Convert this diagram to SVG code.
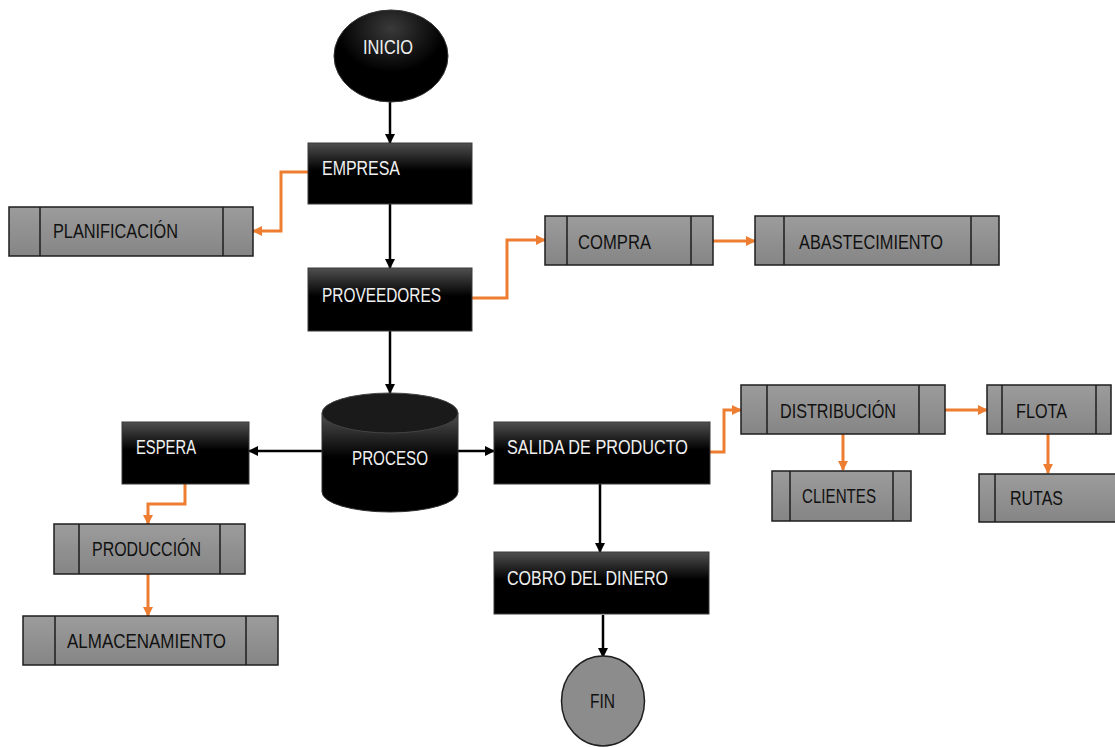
<svg xmlns="http://www.w3.org/2000/svg" width="1115" height="747" viewBox="0 0 1115 747">
<defs>
<linearGradient id="gb" x1="0" y1="0" x2="0" y2="1">
<stop offset="0" stop-color="#505050"/>
<stop offset="0.45" stop-color="#000"/>
<stop offset="1" stop-color="#000"/>
</linearGradient>
<linearGradient id="gg" x1="0" y1="0" x2="0" y2="1">
<stop offset="0" stop-color="#9c9c9c"/>
<stop offset="1" stop-color="#858585"/>
</linearGradient>
<radialGradient id="ge" cx="0.5" cy="0.2" r="0.8">
<stop offset="0" stop-color="#3a3a3a"/>
<stop offset="0.6" stop-color="#000"/>
</radialGradient>
<marker id="ab" markerWidth="10" markerHeight="10" refX="9" refY="5" orient="auto" markerUnits="userSpaceOnUse">
<path d="M0,0 L10,5 L0,10 Z" fill="#000"/>
</marker>
<marker id="ao" markerWidth="10" markerHeight="10" refX="9" refY="5" orient="auto" markerUnits="userSpaceOnUse">
<path d="M0,0 L10,5 L0,10 Z" fill="#ED7D31"/>
</marker>
</defs>
<style>
.blk{fill:url(#gb);stroke:#3a3a3a;stroke-width:1}
.gry{fill:url(#gg);stroke:#1e1e1e;stroke-width:1.5}
.div{stroke:#1e1e1e;stroke-width:1.5;fill:none}
.tw{font-family:"Liberation Sans",Arial,sans-serif;font-size:20px;fill:#f0f0f0}
.tk{font-family:"Liberation Sans",Arial,sans-serif;font-size:20px;fill:#111}
.cb{stroke:#000;stroke-width:2.5;fill:none;marker-end:url(#ab)}
.co{stroke:#ED7D31;stroke-width:3;fill:none;marker-end:url(#ao)}
</style>
<rect width="1115" height="747" fill="#fff"/>

<g id="connectors">
<path class="cb" d="M390,102 L390,143"/>
<path class="cb" d="M390,204 L390,268"/>
<path class="cb" d="M390,331 L390,393"/>
<path class="cb" d="M322,451 L249,451"/>
<path class="cb" d="M458,451 L494,451"/>
<path class="cb" d="M600,484 L600,552"/>
<path class="cb" d="M603,615 L603,657"/>
<path class="co" d="M308,172 L281,172 L281,231 L253,231"/>
<path class="co" d="M472,298 L507,298 L507,240 L545,240"/>
<path class="co" d="M713,241 L755,241"/>
<path class="co" d="M185,484 L185,504 L148,504 L148,524"/>
<path class="co" d="M148,574 L148,616"/>
<path class="co" d="M710,452 L724,452 L724,410 L741,410"/>
<path class="co" d="M945,410 L987,410"/>
<path class="co" d="M843,434 L843,470"/>
<path class="co" d="M1048,434 L1048,473"/>
</g>

<g id="inicio">
<ellipse cx="391" cy="56" rx="57" ry="46" fill="url(#ge)" stroke="#333" stroke-width="1"/>
<text class="tw" x="363" y="54" textLength="50" lengthAdjust="spacingAndGlyphs">INICIO</text>
</g>

<g id="empresa">
<rect class="blk" x="308" y="143" width="164" height="61"/>
<text class="tw" x="322" y="175" textLength="78" lengthAdjust="spacingAndGlyphs">EMPRESA</text>
</g>

<g id="planificacion">
<rect class="gry" x="9" y="207" width="244" height="49"/>
<path class="div" d="M40,207 V256 M223,207 V256"/>
<text class="tk" x="53" y="238" textLength="125" lengthAdjust="spacingAndGlyphs">PLANIFICACIÓN</text>
</g>

<g id="proveedores">
<rect class="blk" x="308" y="268" width="164" height="63"/>
<text class="tw" x="322" y="302" textLength="119" lengthAdjust="spacingAndGlyphs">PROVEEDORES</text>
</g>

<g id="compra">
<rect class="gry" x="545" y="216" width="168" height="49"/>
<path class="div" d="M567,216 V265 M691,216 V265"/>
<text class="tk" x="578" y="249" textLength="73" lengthAdjust="spacingAndGlyphs">COMPRA</text>
</g>

<g id="abastecimiento">
<rect class="gry" x="755" y="216" width="244" height="49"/>
<path class="div" d="M784,216 V265 M971,216 V265"/>
<text class="tk" x="799" y="249" textLength="144" lengthAdjust="spacingAndGlyphs">ABASTECIMIENTO</text>
</g>

<g id="proceso">
<path d="M322,413 L322,492 A68,20 0 0 0 458,492 L458,413 Z" fill="url(#gb)" stroke="#333" stroke-width="1"/>
<ellipse cx="390" cy="413" rx="68" ry="20" fill="#1a1a1a" stroke="#444" stroke-width="1"/>
<text class="tw" x="352" y="465" textLength="76" lengthAdjust="spacingAndGlyphs">PROCESO</text>
</g>

<g id="espera">
<rect class="blk" x="122" y="422" width="127" height="62"/>
<text class="tw" x="136" y="454" textLength="60" lengthAdjust="spacingAndGlyphs">ESPERA</text>
</g>

<g id="produccion">
<rect class="gry" x="54" y="524" width="191" height="50"/>
<path class="div" d="M79,524 V574 M220,524 V574"/>
<text class="tk" x="92" y="556" textLength="109" lengthAdjust="spacingAndGlyphs">PRODUCCIÓN</text>
</g>

<g id="almacenamiento">
<rect class="gry" x="23" y="616" width="255" height="49"/>
<path class="div" d="M55,616 V665 M246,616 V665"/>
<text class="tk" x="67" y="648" textLength="159" lengthAdjust="spacingAndGlyphs">ALMACENAMIENTO</text>
</g>

<g id="salida">
<rect class="blk" x="494" y="422" width="216" height="62"/>
<text class="tw" x="507" y="454" textLength="181" lengthAdjust="spacingAndGlyphs">SALIDA DE PRODUCTO</text>
</g>

<g id="distribucion">
<rect class="gry" x="741" y="385" width="204" height="49"/>
<path class="div" d="M767,385 V434 M919,385 V434"/>
<text class="tk" x="780" y="418" textLength="116" lengthAdjust="spacingAndGlyphs">DISTRIBUCIÓN</text>
</g>

<g id="flota">
<rect class="gry" x="987" y="385" width="124" height="49"/>
<path class="div" d="M1002,385 V434 M1096,385 V434"/>
<text class="tk" x="1016" y="418" textLength="51" lengthAdjust="spacingAndGlyphs">FLOTA</text>
</g>

<g id="clientes">
<rect class="gry" x="772" y="471" width="139" height="50"/>
<path class="div" d="M790,471 V521 M893,471 V521"/>
<text class="tk" x="802" y="503" textLength="74" lengthAdjust="spacingAndGlyphs">CLIENTES</text>
</g>

<g id="rutas">
<rect class="gry" x="979" y="474" width="140" height="48"/>
<path class="div" d="M995,474 V522"/>
<text class="tk" x="1010" y="505" textLength="53" lengthAdjust="spacingAndGlyphs">RUTAS</text>
</g>

<g id="cobro">
<rect class="blk" x="494" y="552" width="215" height="62"/>
<text class="tw" x="507" y="585" textLength="161" lengthAdjust="spacingAndGlyphs">COBRO DEL DINERO</text>
</g>

<g id="fin">
<ellipse cx="603" cy="701" rx="41.5" ry="45" fill="#8c8c8c" stroke="#1e1e1e" stroke-width="1.5"/>
<text class="tk" x="590" y="708" textLength="25" lengthAdjust="spacingAndGlyphs">FIN</text>
</g>
</svg>
